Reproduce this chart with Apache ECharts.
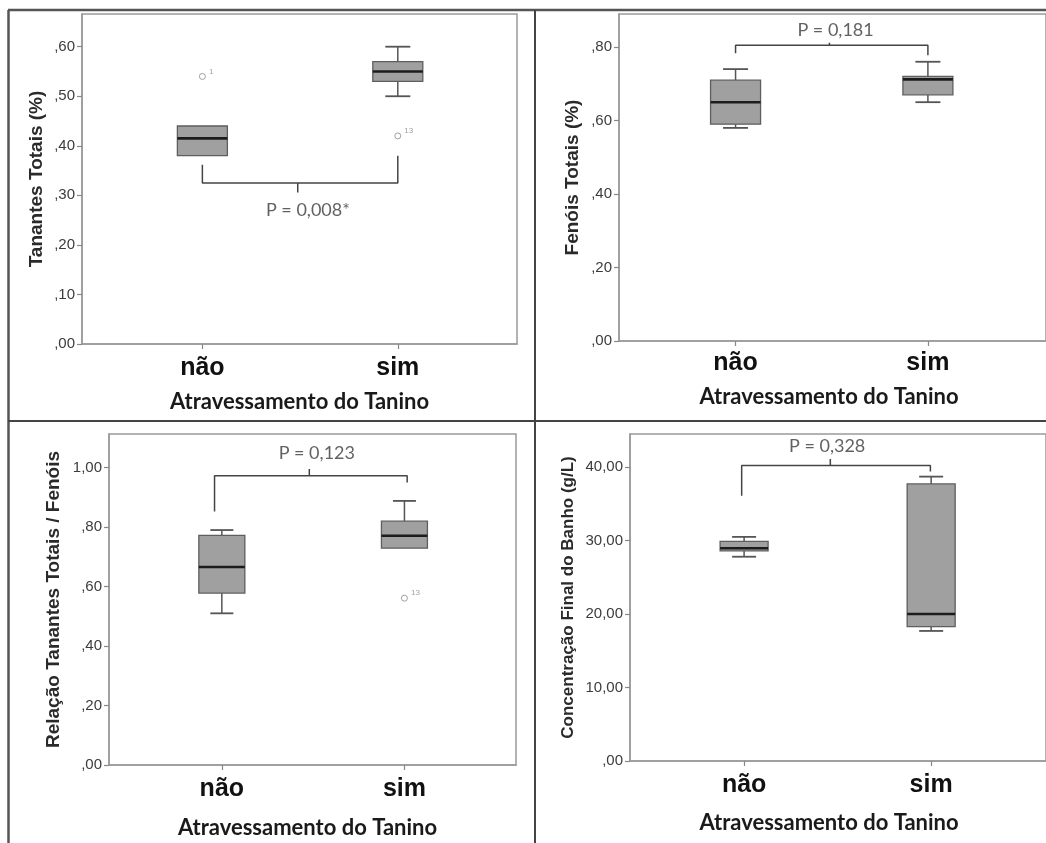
<!DOCTYPE html>
<html>
<head>
<meta charset="utf-8">
<script src="https://cdn.jsdelivr.net/npm/echarts@6/dist/echarts.min.js"></script>
<style>
  html, body { margin: 0; padding: 0; background: #fff; }
  #chart { width: 1046px; height: 843px; }
</style>
</head>
<body>
<div id="chart"></div>
<script>
// Grupos comparados (eixo X)
const categories = ['não', 'sim'];
const xAxisName = 'Atravessamento do Tanino';

// Boxplots: [mínimo, Q1, mediana, Q3, máximo] por grupo
const tanantesBox = [[0.38, 0.38, 0.415, 0.44, 0.44], [0.50, 0.53, 0.55, 0.57, 0.60]];
const fenoisBox   = [[0.58, 0.59, 0.65, 0.71, 0.74], [0.65, 0.67, 0.712, 0.72, 0.76]];
const relacaoBox  = [[0.51, 0.578, 0.666, 0.772, 0.79], [0.729, 0.729, 0.771, 0.82, 0.888]];
const concBox     = [[27.8, 28.6, 28.95, 29.9, 30.5], [17.7, 18.3, 20.0, 37.7, 38.7]];

// Valores atípicos: [grupo, valor, número do caso]
const tanantesOut = [[0, 0.54, '1'], [1, 0.42, '13']];
const fenoisOut   = [];
const relacaoOut  = [[1, 0.561, '13']];
const concOut     = [];

// Chave de significância: altura das pernas e da barra, posição x das pernas
const tanantesBracket = { x: [0, 1], legs: [0.362, 0.38], bar: 0.325, mid: 0.488, tip: 0.306 };
const fenoisBracket   = { x: [0, 1], legs: [0.783, 0.778], bar: 0.805, mid: 0.488, tip: 0.812 };
const relacaoBracket  = { x: [-0.04, 1.015], legs: [0.852, 0.95], bar: 0.973, mid: 0.479, tip: 0.995 };
const concBracket     = { x: [-0.013, 0.996], legs: [36.1, 39.4], bar: 40.2, mid: 0.461, tip: 41.1 };

// Texto do valor P e sua posição [x, y]
const tanantesP = { text: 'P = 0,008*', at: [0.54, 0.271] };
const fenoisP   = { text: 'P = 0,181',  at: [0.52, 0.846] };
const relacaoP  = { text: 'P = 0,123',  at: [0.52, 1.048] };
const concP     = { text: 'P = 0,328',  at: [0.444, 42.8] };

// Marcas do eixo Y e seus rótulos
const tanantesTicks = [0, 0.1, 0.2, 0.3, 0.4, 0.5, 0.6];
const tanantesTickLabels = [',00', ',10', ',20', ',30', ',40', ',50', ',60'];
const fenoisTicks = [0, 0.2, 0.4, 0.6, 0.8];
const fenoisTickLabels = [',00', ',20', ',40', ',60', ',80'];
const relacaoTicks = [0, 0.2, 0.4, 0.6, 0.8, 1.0];
const relacaoTickLabels = [',00', ',20', ',40', ',60', ',80', '1,00'];
const concTicks = [0, 10, 20, 30, 40];
const concTickLabels = [',00', '10,00', '20,00', '30,00', '40,00'];

const yNames = ['Tanantes Totais (%)', 'Fenóis Totais (%)', 'Relação Tanantes Totais / Fenóis', 'Concentração Final do Banho (g/L)'];

// Layout de cada painel
const panels = [
  { grid: { left: 82, top: 14, width: 435, height: 330 }, xr: [-0.616, 1.61], ymax: 0.666,
    box: tanantesBox, out: tanantesOut, br: tanantesBracket, p: tanantesP, ticks: tanantesTicks, tl: tanantesTickLabels,
    boxW: 50, yGap: 36, yFont: 19, xGap: 47, xPad: 0, catMargin: 12 },
  { grid: { left: 619, top: 14, width: 435, height: 327 }, xr: [-0.606, 1.614], ymax: 0.89,
    box: fenoisBox, out: fenoisOut, br: fenoisBracket, p: fenoisP, ticks: fenoisTicks, tl: fenoisTickLabels,
    boxW: 50, yGap: 37, yFont: 19, xGap: 45, xPad: 7, catMargin: 10 },
  { grid: { left: 109, top: 434, width: 407, height: 331 }, xr: [-0.618, 1.611], ymax: 1.113,
    box: relacaoBox, out: relacaoOut, br: relacaoBracket, p: relacaoP, ticks: relacaoTicks, tl: relacaoTickLabels,
    boxW: 46, yGap: 46, yFont: 19, xGap: 52, xPad: 10, catMargin: 12 },
  { grid: { left: 630, top: 434, width: 422, height: 327 }, xr: [-0.61, 1.614], ymax: 44.5,
    box: concBox, out: concOut, br: concBracket, p: concP, ticks: concTicks, tl: concTickLabels,
    boxW: 48, yGap: 53, yFont: 17, xGap: 51, xPad: 18, catMargin: 12 }
];

const frameColor = '#9a9a9a';

function boxRenderer(boxW) {
  return function (params, api) {
    const x = api.value(0);
    const p = [1, 2, 3, 4, 5].map(function (i) { return api.coord([x, api.value(i)]); });
    const cx = p[0][0];
    const yMin = p[0][1], yQ1 = p[1][1], yMed = p[2][1], yQ3 = p[3][1], yMax = p[4][1];
    const half = boxW / 2, cap = boxW / 4;
    const seg = function (x1, y1, x2, y2, w, c) {
      return { type: 'line', shape: { x1: x1, y1: y1, x2: x2, y2: y2 }, style: { stroke: c, lineWidth: w } };
    };
    const children = [];
    if (Math.abs(yMax - yQ3) > 0.5) {
      children.push(seg(cx, yQ3, cx, yMax, 1.5, '#555'));
      children.push(seg(cx - cap, yMax, cx + cap, yMax, 1.8, '#555'));
    }
    if (Math.abs(yMin - yQ1) > 0.5) {
      children.push(seg(cx, yQ1, cx, yMin, 1.5, '#555'));
      children.push(seg(cx - cap, yMin, cx + cap, yMin, 1.8, '#555'));
    }
    children.push({ type: 'rect', shape: { x: cx - half, y: yQ3, width: boxW, height: yQ1 - yQ3 },
      style: { fill: '#a0a0a0', stroke: '#5e5e5e', lineWidth: 1.3 } });
    children.push(seg(cx - half, yMed, cx + half, yMed, 2.6, '#1c1c1c'));
    return { type: 'group', children: children };
  };
}

function labelFor(ticks, labels) {
  return function (v) {
    let best = 0;
    for (let i = 1; i < ticks.length; i++) {
      if (Math.abs(ticks[i] - v) < Math.abs(ticks[best] - v)) best = i;
    }
    return labels[best];
  };
}

const grids = [], xAxes = [], yAxes = [], series = [];

panels.forEach(function (pn, i) {
  grids.push(Object.assign({ show: true, borderColor: frameColor, borderWidth: 1.5, backgroundColor: 'transparent' }, pn.grid));

  xAxes.push({
    gridIndex: i, type: 'value', min: pn.xr[0], max: pn.xr[1],
    axisLine: { show: true, onZero: false, lineStyle: { color: frameColor, width: 1.5 } },
    axisTick: { show: true, customValues: [0, 1], length: 5, lineStyle: { color: '#888', width: 1.2 } },
    axisLabel: { customValues: [0, 1], formatter: function (v) { return categories[Math.round(v)]; },
      margin: pn.catMargin, fontFamily: 'Liberation Sans', fontWeight: 'bold', fontSize: 25, color: '#111' },
    splitLine: { show: false },
    name: xAxisName, nameLocation: 'middle', nameGap: pn.xGap,
    nameTextStyle: { fontFamily: 'Lato', fontWeight: 'bold', fontSize: 22, color: '#1a1a1a', padding: [0, pn.xPad, 0, 0] }
  });

  yAxes.push({
    gridIndex: i, type: 'value', min: 0, max: pn.ymax,
    axisLine: { show: true, onZero: false, lineStyle: { color: frameColor, width: 1.5 } },
    axisTick: { show: true, customValues: pn.ticks, length: 5, lineStyle: { color: '#888', width: 1.2 } },
    axisLabel: { customValues: pn.ticks, formatter: labelFor(pn.ticks, pn.tl), margin: 7,
      fontFamily: 'Liberation Sans', fontSize: 15, color: '#3c3c3c', padding: [3, 0, 0, 0] },
    splitLine: { show: false },
    name: yNames[i], nameLocation: 'middle', nameGap: pn.yGap,
    nameTextStyle: { fontFamily: 'Liberation Sans', fontWeight: 'bold', fontSize: pn.yFont, color: '#2a2a2a' }
  });

  // Caixas
  series.push({
    type: 'custom', xAxisIndex: i, yAxisIndex: i, silent: true, animation: false,
    renderItem: boxRenderer(pn.boxW),
    encode: { x: 0, y: [1, 2, 3, 4, 5] },
    data: pn.box.map(function (b, k) { return [k].concat(b); })
  });

  // Valores atípicos
  if (pn.out.length) {
    series.push({
      type: 'scatter', xAxisIndex: i, yAxisIndex: i, silent: true, animation: false,
      symbol: 'circle', symbolSize: 6,
      itemStyle: { color: '#fff', borderColor: '#8a8a8a', borderWidth: 1 },
      label: { show: true, position: 'right', offset: [-2, -5], formatter: '{b}', fontSize: 8,
        fontFamily: 'Liberation Sans', color: '#8a8a8a' },
      data: pn.out.map(function (o) { return { value: [o[0], o[1]], name: o[2] }; })
    });
  }

  // Chave de significância
  const br = pn.br;
  series.push({
    type: 'line', xAxisIndex: i, yAxisIndex: i, silent: true, animation: false, showSymbol: false, symbol: 'none',
    lineStyle: { color: '#444', width: 1.5 },
    data: [[br.x[0], br.legs[0]], [br.x[0], br.bar], [br.x[1], br.bar], [br.x[1], br.legs[1]]]
  });
  series.push({
    type: 'line', xAxisIndex: i, yAxisIndex: i, silent: true, animation: false, showSymbol: false, symbol: 'none',
    lineStyle: { color: '#444', width: 1.5 },
    data: [[br.mid, br.bar], [br.mid, br.tip]]
  });

  // Valor P
  series.push({
    type: 'scatter', xAxisIndex: i, yAxisIndex: i, silent: true, animation: false,
    symbolSize: 1, itemStyle: { color: 'rgba(0,0,0,0)' },
    label: { show: true, position: 'inside', formatter: '{b}', fontFamily: 'Lato', fontSize: 18, color: '#3a3a3a' },
    data: [{ value: pn.p.at, name: pn.p.text }]
  });
});

const chart = echarts.init(document.getElementById('chart'), null, { renderer: 'canvas' });
chart.setOption({
  animation: false,
  backgroundColor: '#fff',
  grid: grids,
  xAxis: xAxes,
  yAxis: yAxes,
  series: series,
  // Molduras que separam os quatro painéis
  graphic: [
    { type: 'line', shape: { x1: 8, y1: 10, x2: 1046, y2: 10 }, style: { stroke: '#555', lineWidth: 2.5 } },
    { type: 'line', shape: { x1: 8.5, y1: 10, x2: 8.5, y2: 843 }, style: { stroke: '#555', lineWidth: 2.5 } },
    { type: 'line', shape: { x1: 8, y1: 421, x2: 1046, y2: 421 }, style: { stroke: '#444', lineWidth: 2 } },
    { type: 'line', shape: { x1: 535, y1: 10, x2: 535, y2: 843 }, style: { stroke: '#444', lineWidth: 2 } }
  ]
});
</script>
</body>
</html>
